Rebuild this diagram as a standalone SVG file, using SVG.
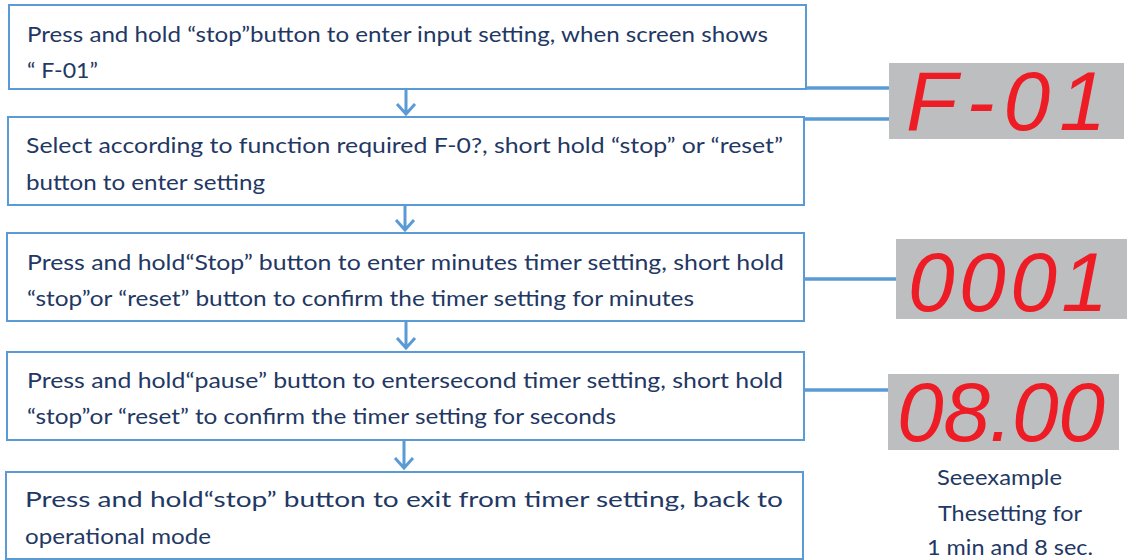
<svg xmlns="http://www.w3.org/2000/svg" width="1127" height="560" viewBox="0 0 1127 560">
<style>
.box{fill:#fff;stroke:#5B9BD5;stroke-width:2}
.t{font-family:Lato,"Open Sans",sans-serif;font-size:21px;fill:#1F3864}
.c{fill:none;stroke:#5B9BD5;stroke-width:3.5}
.a{fill:none;stroke:#5B9BD5;stroke-width:3}
.disp{fill:#BCBEC0}
.seg{font-family:"Liberation Sans",Arial,sans-serif;font-style:italic;font-size:84px;fill:#EE1C25}
</style>
<rect width="1127" height="560" fill="#fff"/>
<g id="connectors">
<path class="c" d="M805 88H890M805 119H890M805 279H897M805 390H896"/>
<path class="a" d="M406 89V114M397 104L406 114L415 104"/>
<path class="a" d="M405 205V230M396 220L405 230L414 220"/>
<path class="a" d="M406 321V348M397 338L406 348L415 338"/>
<path class="a" d="M404 440V468M395 458L404 468L413 458"/>
</g>
<g id="box1">
<rect class="box" x="9" y="5" width="797" height="84"/>
<text class="t" x="27" y="42" textLength="741" lengthAdjust="spacingAndGlyphs">Press and hold “stop”button to enter input setting, when screen shows</text>
<text class="t" x="27" y="78" textLength="71" lengthAdjust="spacingAndGlyphs">“ F-01”</text>
</g>
<g id="box2">
<rect class="box" x="8" y="117" width="796" height="88"/>
<text class="t" x="26" y="153" textLength="757" lengthAdjust="spacingAndGlyphs">Select according to function required F-0?, short hold “stop” or “reset”</text>
<text class="t" x="26" y="190" textLength="239" lengthAdjust="spacingAndGlyphs">button to enter setting</text>
</g>
<g id="box3">
<rect class="box" x="7" y="233" width="797" height="88"/>
<text class="t" x="27" y="270" textLength="757" lengthAdjust="spacingAndGlyphs">Press and hold“Stop” button to enter minutes timer setting, short hold</text>
<text class="t" x="27" y="306" textLength="667" lengthAdjust="spacingAndGlyphs">“stop”or “reset” button to confirm the timer setting for minutes</text>
</g>
<g id="box4">
<rect class="box" x="7" y="352" width="797" height="88"/>
<text class="t" x="27" y="388" textLength="756" lengthAdjust="spacingAndGlyphs">Press and hold“pause” button to entersecond timer setting, short hold</text>
<text class="t" x="27" y="424" textLength="589" lengthAdjust="spacingAndGlyphs">“stop”or “reset” to confirm the timer setting for seconds</text>
</g>
<g id="box5">
<rect class="box" x="6" y="472" width="797" height="87"/>
<text class="t" x="25" y="507" textLength="758" lengthAdjust="spacingAndGlyphs">Press and hold“stop” button to exit from timer setting, back to</text>
<text class="t" x="25" y="544" textLength="186" lengthAdjust="spacingAndGlyphs">operational mode</text>
</g>
<g id="display1">
<rect class="disp" x="889" y="63" width="235" height="76"/>
<text class="seg" x="906" y="130" textLength="200" lengthAdjust="spacing">F-01</text>
</g>
<g id="display2">
<rect class="disp" x="896" y="239" width="231" height="80"/>
<text class="seg" x="908" y="311" textLength="200" lengthAdjust="spacing">0001</text>
</g>
<g id="display3">
<rect class="disp" x="888" y="374" width="231" height="76"/>
<text class="seg" x="897" y="441" textLength="208" lengthAdjust="spacing">08.00</text>
</g>
<g id="note">
<text class="t" x="937" y="485" textLength="125" lengthAdjust="spacingAndGlyphs">Seeexample</text>
<text class="t" x="938" y="521" textLength="144" lengthAdjust="spacingAndGlyphs">Thesetting for</text>
<text class="t" x="927" y="555" textLength="166" lengthAdjust="spacingAndGlyphs">1 min and 8 sec.</text>
</g>
</svg>
